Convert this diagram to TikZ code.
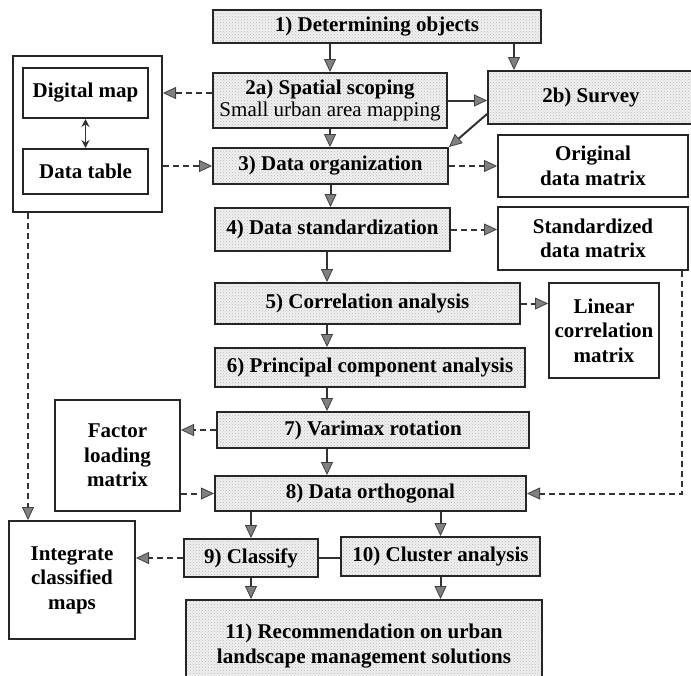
\documentclass[tikz,border=0pt]{standalone}
\usepackage{fontspec}
\setmainfont{Liberation Serif}
\usetikzlibrary{arrows.meta,patterns,calc}
\begin{document}
\begin{tikzpicture}[x=1pt,y=-1pt,
  base/.style={draw=black!85, line width=2pt, inner sep=1pt, align=center,
    font=\fontsize{21}{24.5}\selectfont\bfseries},
  plainbox/.style={base, fill=white},
  shadebox/.style={base, preaction={fill=gray!12}, pattern=crosshatch dots, pattern color=gray!55},
  arr/.style={draw=black!80, line width=2pt, -{Triangle[length=13pt,width=12pt,fill=gray,color=black!75,line width=0.8pt]}},
  darr/.style={arr, dash pattern=on 6pt off 4pt},
  both/.style={draw=black!80, line width=1.4pt, {Stealth[length=8pt,width=8pt]}-{Stealth[length=8pt,width=8pt]}},
  link/.style={draw=black!80, line width=2pt}
]
\useasboundingbox (0,0) rectangle (691,675);
\clip (0,0) rectangle (691,675);

% process boxes
\node[shadebox, minimum width=328pt, minimum height=33pt] (n1) at (377,26.5) {1) Determining objects};
\node[shadebox, minimum width=234pt, minimum height=55pt] (n2a) at (330,100.5)
  {2a) Spatial scoping\\[-3pt]{\mdseries Small urban area mapping}};
\node[shadebox, minimum width=206pt, minimum height=53pt] (n2b) at (591,97.5) {2b) Survey};
\node[shadebox, minimum width=235pt, minimum height=36pt] (n3) at (330.5,166) {3) Data organization};
\node[shadebox, minimum width=235pt, minimum height=43pt] (n4) at (332.5,229.5) {4) Data standardization};
\node[shadebox, minimum width=305pt, minimum height=41pt] (n5) at (367.5,303.5) {5) Correlation analysis};
\node[shadebox, minimum width=310pt, minimum height=39pt] (n6) at (370,367.5) {6) Principal component analysis};
\node[shadebox, minimum width=312pt, minimum height=36pt] (n7) at (373,430) {7) Varimax rotation};
\node[shadebox, minimum width=311pt, minimum height=35pt] (n8) at (370.5,493.5) {8) Data orthogonal};
\node[shadebox, minimum width=134pt, minimum height=38pt] (n9) at (251,558) {9) Classify};
\node[shadebox, minimum width=199pt, minimum height=39pt] (n10) at (440.5,556.5) {10) Cluster analysis};
\node[shadebox, minimum width=356pt, minimum height=92pt] (n11) at (364,646)
  {11) Recommendation on urban\\landscape management solutions};

% output boxes
\node[plainbox, minimum width=149pt, minimum height=156pt] (big) at (87.5,134) {};
\node[plainbox, minimum width=125pt, minimum height=50pt] (dmap) at (85.5,93) {Digital map};
\node[plainbox, minimum width=125pt, minimum height=45pt] (dtab) at (85.5,171.5) {Data table};
\node[plainbox, minimum width=190pt, minimum height=62pt] (orig) at (593,166) {Original\\data matrix};
\node[plainbox, minimum width=190pt, minimum height=63pt] (std) at (593,238.5) {Standardized\\data matrix};
\node[plainbox, minimum width=110pt, minimum height=95pt] (lin) at (604,330.5) {Linear\\correlation\\matrix};
\node[plainbox, minimum width=125pt, minimum height=111pt] (fac) at (117.5,455.5) {Factor\\loading\\matrix};
\node[plainbox, minimum width=126pt, minimum height=118pt] (integ) at (72,580) {Integrate\\classified\\maps};

\coordinate (c1) at (514,0);
\coordinate (cx) at (327,0);
\coordinate (sx) at (682,0);
\coordinate (lx) at (28,0);

% solid flow
\draw[arr] (n1.south -| n2a.north) -- (n2a.north);
\draw[arr] (n1.south -| c1) -- (n2b.north -| c1);
\draw[arr] (n2a.east) -- (n2a.east -| n2b.west);
\draw[arr] ($(n2b.south west)+(0,-11)$) -- (n3.north east);
\draw[arr] (n2a.south) -- (n3.north -| n2a.south);
\draw[arr] (n3.south) -- (n4.north -| n3.south);
\draw[arr] (n4.south -| cx) -- (n5.north -| cx);
\draw[arr] (n5.south -| cx) -- (n6.north -| cx);
\draw[arr] (n6.south -| cx) -- (n7.north -| cx);
\draw[arr] (n7.south -| cx) -- (n8.north -| cx);
\draw[arr] (n8.south -| n9.north) -- (n9.north);
\draw[arr] (n8.south -| n10.north) -- (n10.north);
\draw[arr] (n9.south) -- (n11.north -| n9.south);
\draw[arr] (n10.south) -- (n11.north -| n10.south);
\draw[link] (n9.east) -- (n9.east -| n10.west);
\draw[both] (dmap.south) -- (dtab.north);

% dashed outputs
\draw[darr] (n2a.west |- dmap.east) -- (big.east |- dmap.east);
\draw[darr] (big.east |- n3.west) -- (n3.west);
\draw[darr] (n3.east) -- (n3.east -| orig.west);
\draw[darr] (n4.east) -- (n4.east -| std.west);
\draw[darr] (n5.east) -- (n5.east -| lin.west);
\draw[darr] (n7.west) -- (n7.west -| fac.east);
\draw[darr] (fac.east |- n8.west) -- (n8.west);
\draw[darr] (std.south -| sx) |- (n8.east);
\draw[darr] (big.south -| lx) -- (integ.north -| lx);
\draw[darr] (n9.west) -- (n9.west -| integ.east);
\end{tikzpicture}
\end{document}
